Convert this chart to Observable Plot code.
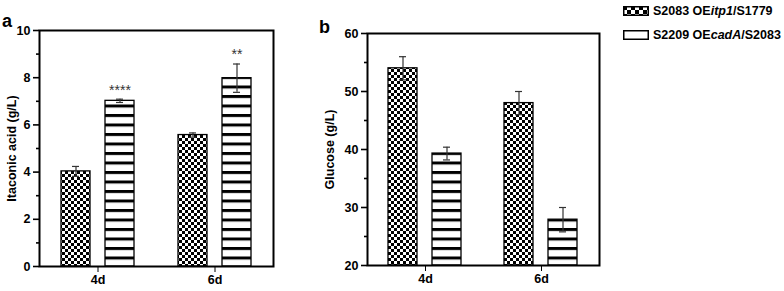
<!DOCTYPE html>
<html>
<head>
<meta charset="utf-8">
<script src="https://cdn.jsdelivr.net/npm/d3@7"></script>
<script src="https://cdn.jsdelivr.net/npm/@observablehq/plot@0.6"></script>
<style>
  html, body { margin: 0; padding: 0; background: #fff; }
  #wrap { position: relative; width: 784px; height: 291px; overflow: hidden; font-family: "Liberation Sans", Arial, sans-serif; font-weight: bold; color: #000; }
  #wrap > div.p { position: absolute; top: 0; }
  .letter { position: absolute; font-size: 18px; font-weight: bold; line-height: 1; }
  #legend { position: absolute; left: 623px; top: 3px; font-size: 12.5px; font-weight: bold; }
  #legend .row { display: flex; align-items: center; height: 16px; margin-bottom: 8px; white-space: nowrap; }
  #legend svg { margin-right: 4px; }
</style>
</head>
<body>
<svg width="0" height="0" style="position:absolute">
  <defs>
    <pattern id="checker" patternUnits="userSpaceOnUse" width="6" height="6">
      <rect width="6" height="6" fill="#fff"/>
      <rect x="0" y="0" width="3" height="3" fill="#000"/>
      <rect x="3" y="3" width="3" height="3" fill="#000"/>
    </pattern>
    <pattern id="stripes" patternUnits="userSpaceOnUse" width="10" height="9.5">
      <rect width="10" height="9.5" fill="#fff"/>
      <rect x="0" y="0" width="10" height="3" fill="#000"/>
    </pattern>
    <pattern id="checkerBig" patternUnits="userSpaceOnUse" width="8" height="8">
      <rect width="8" height="8" fill="#fff"/>
      <rect x="0" y="0" width="4" height="4" fill="#000"/>
      <rect x="4" y="4" width="4" height="4" fill="#000"/>
    </pattern>
  </defs>
</svg>
<div id="wrap">
  <div class="p" id="pa" style="left:0px"></div>
  <div class="p" id="pb" style="left:280px"></div>
  <div class="letter" style="left:2px; top:12px">a</div>
  <div class="letter" style="left:319px; top:18px">b</div>
  <div id="legend"></div>
</div>
<script>
// ---- data ----
const days = ["4d", "6d"];
const series = ["S2083 OEitp1/S1779", "S2209 OEcadA/S2083"];
const seriesHtml = ["S2083 OE<i>itp1</i>/S1779", "S2209 OE<i>cadA</i>/S2083"];

// Itaconic acid (g/L): per series, values over days
const itaconicA = [4.03, 5.57];
const itaconicAErr = [0.21, 0.09];
const itaconicB = [7.02, 7.98];
const itaconicBErr = [0.07, 0.6];
const itaconicSigA = ["", ""];
const itaconicSigB = ["****", "**"];

// Glucose (g/L)
const glucoseA = [54.0, 48.0];
const glucoseAErr = [2.0, 2.0];
const glucoseB = [39.3, 27.9];
const glucoseBErr = [1.1, 2.1];

const itaconicDomain = [0, 10];
const itaconicMajor = [0, 2, 4, 6, 8, 10];
const itaconicMinor = [1, 3, 5, 7, 9];
const glucoseDomain = [20, 60];
const glucoseMajor = [20, 30, 40, 50, 60];
const glucoseMinor = [25, 35, 45, 55];

const fills = ["url(#checker)", "url(#stripes)"];

function rows(a, ae, b, be, sa, sb) {
  const out = [];
  days.forEach((d, i) => {
    out.push({day: d, series: series[0], v: a[i], e: ae[i], sig: sa ? sa[i] : ""});
    out.push({day: d, series: series[1], v: b[i], e: be[i], sig: sb ? sb[i] : ""});
  });
  return out;
}

function panel({data, domain, major, minor, label, width, marginLeft, marginRight, marginTop, marginBottom, fxPadOuter, xPadInner, xPadOuter, base, labelOffset}) {
  return Plot.plot({
    width, height: 291,
    marginLeft, marginRight, marginTop, marginBottom,
    style: {fontFamily: "'Liberation Sans', Arial, sans-serif", fontSize: "12.5px", fontWeight: "bold", color: "#000", background: "transparent"},
    fx: {domain: days, paddingInner: 0, paddingOuter: fxPadOuter, label: null, tickSize: 6, tickPadding: 3},
    x: {domain: series, axis: null, paddingInner: xPadInner, paddingOuter: xPadOuter, align: 0.5},
    y: {domain, label: null},
    color: {domain: series, range: fills},
    marks: [
      Plot.barY(data, {fx: "day", x: "series", y1: base, y2: "v", fill: "series", stroke: "#000", strokeWidth: 1.3}),
      Plot.ruleX(data, {fx: "day", x: "series", y1: d => d.v - d.e, y2: d => d.v + d.e, stroke: "#333", strokeWidth: 1.2}),
      Plot.tickY(data, {fx: "day", x: "series", y: d => d.v + d.e, stroke: "#333", strokeWidth: 1.2, insetLeft: 11, insetRight: 11}),
      Plot.tickY(data, {fx: "day", x: "series", y: d => d.v - d.e, stroke: "#333", strokeWidth: 1.2, insetLeft: 11, insetRight: 11}),
      Plot.text(data.filter(d => d.sig), {fx: "day", x: "series", y: d => d.v + d.e, text: "sig", dy: -9, fill: "#333", fontSize: 14, fontWeight: "normal"}),
      Plot.axisY({ticks: major, tickSize: 6, tickPadding: 3, strokeWidth: 1.6, label, labelAnchor: "center", labelArrow: "none", labelOffset}),
      Plot.axisY({ticks: minor, tickSize: 3, tickFormat: () => "", strokeWidth: 1.6, label: null}),
      Plot.frame({facet: "super", stroke: "#000", strokeWidth: 2})
    ]
  });
}

const dataA = rows(itaconicA, itaconicAErr, itaconicB, itaconicBErr, itaconicSigA, itaconicSigB);
const dataB = rows(glucoseA, glucoseAErr, glucoseB, glucoseBErr);

document.getElementById("pa").appendChild(panel({
  data: dataA, domain: itaconicDomain, major: itaconicMajor, minor: itaconicMinor,
  label: "Itaconic acid (g/L)", width: 280, marginLeft: 37, marginRight: 5, marginTop: 30, marginBottom: 25,
  fxPadOuter: 0.0085, xPadInner: 0.333, xPadOuter: 0.478, base: itaconicDomain[0], labelOffset: 32
}));
document.getElementById("pb").appendChild(panel({
  data: dataB, domain: glucoseDomain, major: glucoseMajor, minor: glucoseMinor,
  label: "Glucose (g/L)", width: 324, marginLeft: 87, marginRight: 5, marginTop: 33, marginBottom: 26,
  fxPadOuter: 0, xPadInner: 0.33, xPadOuter: 0.483, base: glucoseDomain[0], labelOffset: 42
}));

// legend
const legendFills = ["url(#checkerBig)", "#fff"];
const leg = d3.select("#legend");
series.forEach((s, i) => {
  const row = leg.append("div").attr("class", "row");
  const sv = row.append("svg").attr("width", 26).attr("height", 10);
  sv.append("rect").attr("x", 0.75).attr("y", 0.75).attr("width", 24.5).attr("height", 8.5)
    .attr("fill", legendFills[i]).attr("stroke", "#000").attr("stroke-width", 1.5);
  row.append("span").html(seriesHtml[i]);
});
</script>
</body>
</html>
